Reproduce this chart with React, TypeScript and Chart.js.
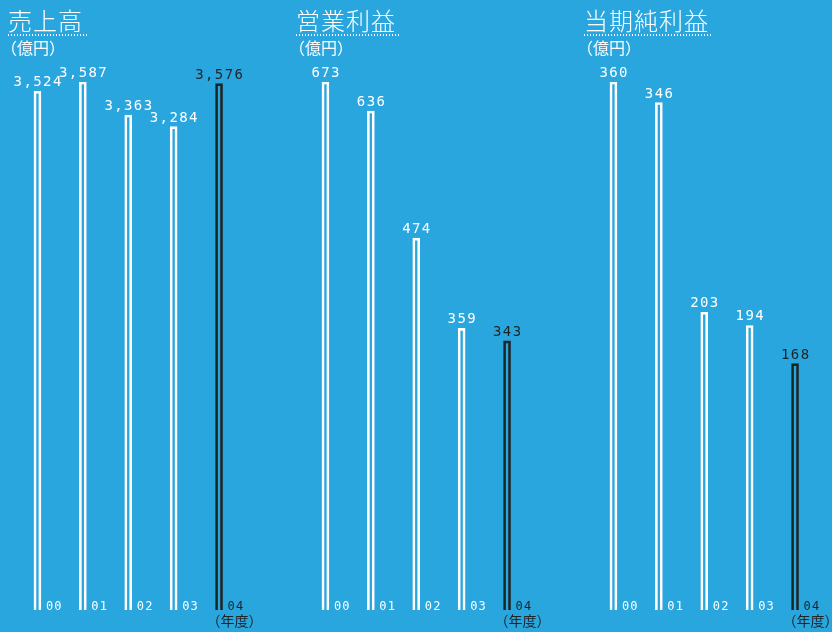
import { useEffect, useRef } from "react";
import { Chart, registerables } from "chart.js";

Chart.register(...registerables);

const years = ["00", "01", "02", "03", "04"];
const salesValues = [3524, 3587, 3363, 3284, 3576];
const operatingValues = [673, 636, 474, 359, 343];
const netValues = [360, 346, 203, 194, 168];
const panelTitles = ["売上高", "営業利益", "当期純利益"];
const unitLabel = "（億円）";
const yearUnitLabel = "（年度）";

const BG = "#29a6de";
const WHITE = "#ffffff";
const DARK = "#1f2427";
const PANEL_W = 288;
const H = 632;

const labelPlugin = {
  id: "barLabels",
  afterDatasetsDraw(chart: any) {
    const ctx = chart.ctx as CanvasRenderingContext2D;
    const xs = chart.scales.x;
    const ys = chart.scales.y;
    const vals = chart.data.datasets[0].data as number[];
    const labels = chart.data.labels as string[];
    const n = vals.length;
    const base = ys.getPixelForValue(0);
    ctx.save();
    vals.forEach((v, i) => {
      const x = xs.getPixelForValue(i);
      const y = ys.getPixelForValue(v);
      const color = i === n - 1 ? DARK : WHITE;
      ctx.fillStyle = color;
      (ctx as any).letterSpacing = "1.4px";
      ctx.font = '14px "DejaVu Sans Mono"';
      ctx.textAlign = "center";
      ctx.textBaseline = "alphabetic";
      ctx.fillText(v.toLocaleString("en-US"), x + 0.7, y - 5);
      (ctx as any).letterSpacing = "1.2px";
      ctx.font = '12px "DejaVu Sans Mono"';
      ctx.textAlign = "left";
      ctx.fillText(labels[i], x + 8.5, base);
      if (i === n - 1) {
        (ctx as any).letterSpacing = "0px";
        ctx.font = '14px "Noto Sans CJK JP"';
        ctx.textAlign = "center";
        ctx.fillText(yearUnitLabel, x + 15.5, base + 16);
      }
    });
    ctx.restore();
  },
};

function Panel({ values, left, title }: { values: number[]; left: number; title: string }) {
  const ref = useRef<HTMLCanvasElement | null>(null);
  useEffect(() => {
    if (!ref.current) return;
    const n = values.length;
    const chart = new Chart(ref.current, {
      type: "bar",
      data: {
        labels: years,
        datasets: [
          {
            data: values,
            backgroundColor: "rgba(0,0,0,0)",
            borderColor: values.map((_, i) => (i === n - 1 ? DARK : WHITE)),
            borderWidth: 2,
            barThickness: 7,
            borderSkipped: "bottom",
          },
        ],
      },
      options: {
        animation: false,
        responsive: false,
        layout: { padding: { left: 14.75, right: 46.25, top: 82, bottom: 22 } },
        scales: {
          x: { display: false, offset: true },
          y: { display: false, min: 0, max: Math.max(...values) },
        },
        plugins: { legend: { display: false }, tooltip: { enabled: false } },
      },
      plugins: [labelPlugin],
    } as any);
    return () => chart.destroy();
  }, [values]);

  const lineW = title.length * 25 + 5;
  return (
    <div style={{ position: "absolute", left, top: 0, width: PANEL_W, height: H }}>
      <canvas ref={ref} width={PANEL_W} height={H} style={{ position: "absolute", left: 0, top: 0, width: PANEL_W, height: H }} />
      <div
        style={{
          position: "absolute",
          left: 8,
          top: 8,
          fontFamily: '"Noto Sans CJK JP"',
          fontSize: 24,
          lineHeight: "24px",
          letterSpacing: 1,
          color: WHITE,
          fontWeight: 300,
          whiteSpace: "nowrap",
        }}
      >
        {title}
      </div>
      <div
        style={{
          position: "absolute",
          left: 7,
          top: 34,
          width: lineW,
          height: 2,
          backgroundImage: "radial-gradient(circle, #ffffff 0.8px, rgba(255,255,255,0) 1.1px)",
          backgroundSize: "3px 2px",
        }}
      />
      <div
        style={{
          position: "absolute",
          left: 1,
          top: 39,
          fontFamily: '"Noto Sans CJK JP"',
          fontSize: 16,
          lineHeight: "16px",
          color: WHITE,
          whiteSpace: "nowrap",
        }}
      >
        {unitLabel}
      </div>
    </div>
  );
}

export default function App() {
  return (
    <div
      style={{
        position: "absolute",
        left: 0,
        top: 0,
        width: 832,
        height: H,
        background: BG,
        overflow: "hidden",
      }}
    >
      <Panel values={salesValues} left={0} title={panelTitles[0]} />
      <Panel values={operatingValues} left={288} title={panelTitles[1]} />
      <Panel values={netValues} left={576} title={panelTitles[2]} />
    </div>
  );
}
